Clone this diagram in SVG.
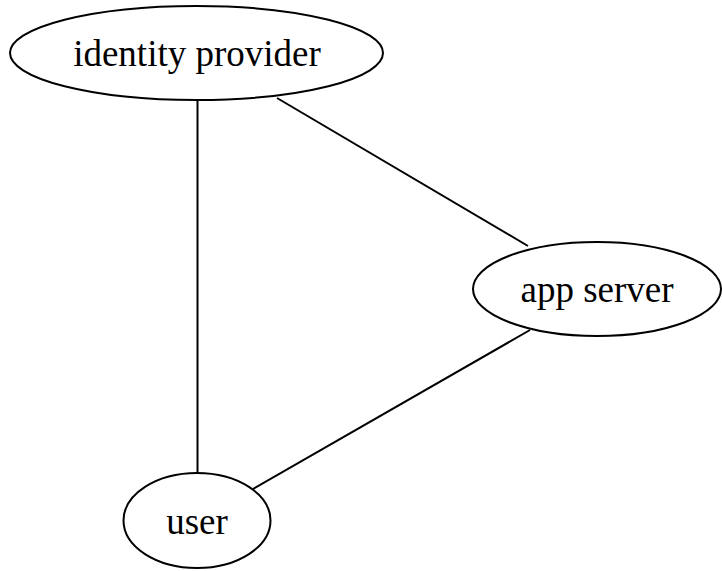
<svg xmlns="http://www.w3.org/2000/svg" width="722" height="571" viewBox="0 0 722 571">
<style>
.node ellipse{fill:#fff;stroke:#000;stroke-width:2}
.node text{font-family:"Liberation Serif","Times New Roman",serif;font-size:37px;fill:#000;text-anchor:middle}
#edges line{stroke:#000;stroke-width:2}
</style>
<rect width="722" height="571" fill="#fff"/>
<g id="edges">
<line x1="197.5" y1="100" x2="197.5" y2="473"/>
<line x1="277" y1="98" x2="528" y2="246"/>
<line x1="530" y1="330" x2="253" y2="489"/>
</g>
<g id="identity_provider" class="node">
<ellipse cx="196.5" cy="53" rx="186.5" ry="47"/>
<text x="197" y="66">identity provider</text>
</g>
<g id="app_server" class="node">
<ellipse cx="597" cy="289" rx="124" ry="47"/>
<text x="597" y="302">app server</text>
</g>
<g id="user" class="node">
<ellipse cx="197" cy="520.5" rx="73.5" ry="47.5"/>
<text x="197" y="534">user</text>
</g>
</svg>
